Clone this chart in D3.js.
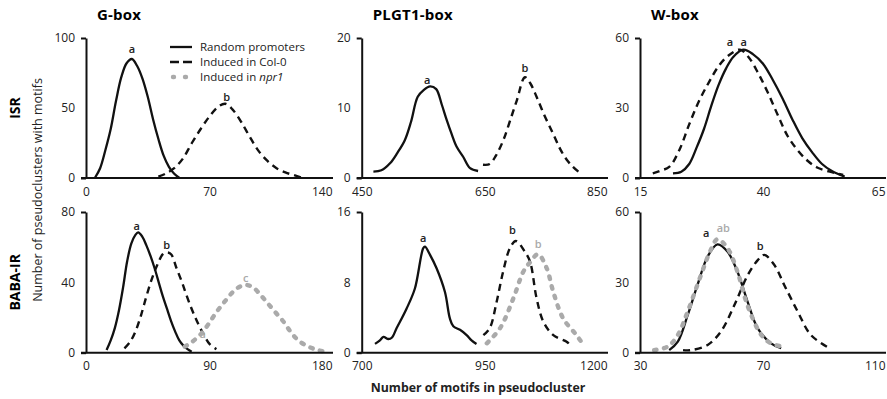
<!DOCTYPE html>
<html>
<head>
<meta charset="utf-8">
<script src="https://cdn.jsdelivr.net/npm/d3@7"></script>
<style>
  body { margin: 0; background: #fff; }
  svg { display: block; font-family: "Open Sans", sans-serif; }
</style>
</head>
<body>
<svg id="chart" width="887" height="399"></svg>
<script>
// values, [motifs, pseudoclusters]
const gIsrRandom = [[5,0],[8,7],[11,20],[14,35],[17,55],[20,72],[23,82],[26,85],[29,80],[32,71],[35,58],[38,42],[41,28],[44,16],[47,8],[50,3],[53,0]];
const gIsrCol = [[41,1],[45,3],[50,7],[55,14],[60,25],[65,35],[70,44],[75,51],[79,53],[83,49],[88,40],[93,29],[98,19],[103,12],[108,7],[113,4],[118,2],[123,0]];
const plgtIsrRandom = [[469,0.9],[482,1.1],[496,2.1],[508,3.6],[520,5.4],[530,8],[541,11.6],[551,12.6],[561,13.1],[571,12.7],[580,10.5],[588,8.3],[596,6.3],[604,4.5],[615,3],[626,1.4],[639,1.0]];
const plgtIsrCol = [[647,1.9],[658,2.0],[668,3.2],[680,5.4],[691,8.2],[702,11.1],[715,14.4],[724,13.5],[734,11.6],[747,8.9],[761,6.3],[772,4.2],[783,2.6],[793,1.6],[802,0.9]];
const wIsrRandom = [[21.7,2],[23.4,2.7],[25,6],[26.5,13],[28,21],[29.5,31],[31,40],[32.5,47],[34,52],[36,55],[38,53],[40,49],[42,42],[44,34],[46,25],[48,17],[50,11],[52,6],[54,3],[56.6,0.6]];
const wIsrCol = [[17.6,2],[19,3],[21,4.9],[23,12],[25,23],[27,33],[29,41],[31,48],[33,52.5],[35.3,55],[37,52],[39,45],[41,36.5],[43,27],[45,18],[47,12],[49,7.5],[51,4.5],[53.6,2.7],[56.3,1.3]];

const gBabaRandom = [[15,1.5],[18,7],[21,14],[24,24],[27,37],[30,52],[33,62],[36,67],[38,68.4],[41,66],[44,61],[47,55],[50,48],[53,40],[56,32],[59,25],[62,18],[65,12],[68,7],[71,4],[74,2],[77,0.5]];
const gBabaCol = [[28,2.5],[32,6],[36,12],[40,21],[44,32],[48,42],[52,50],[56,56],[59,57],[62,56],[66,48],[70,40],[74,31],[78,23],[82,16],[86,10],[90,5],[95,2]];
const gBabaNpr = [[72,3.4],[77,6],[83,10],[89,16],[95,23],[101,29],[107,34.5],[112,37.5],[117,38.5],[122,37],[127,33],[132,28.5],[138,23],[144,17.6],[149,12],[154,7.5],[159,4.7],[164,2.8],[169,1.5],[174,0.6]];
const plgtBabaRandom = [[727,1.0],[737,1.4],[744,1.8],[754,1.56],[761,1.7],[771,2.8],[791,5.0],[808,7.3],[825,11.9],[828.5,12.05],[839,11.1],[852,9.6],[869,6.9],[879,3.9],[886,3.0],[899.5,2.6],[913,2.0],[923,1.4],[933,1.0]];
const plgtBabaCol = [[947,2.0],[960,2.8],[974,5.8],[987,9.2],[1001,11.9],[1013,12.7],[1031,11.5],[1042,10.3],[1055,6.2],[1069,3.5],[1089,2.0],[1116,1.25],[1121,1.0]];
const plgtBabaNpr = [[954,1.07],[981,2.8],[1008,6.2],[1028,9.2],[1042,10.3],[1058,11.2],[1075.6,9.6],[1089,6.9],[1109,3.9],[1136,2.0],[1150,0.9]];
const wBabaRandom = [[39.5,1.1],[42.3,4.7],[45.5,16],[48.7,28.9],[52,41],[55.2,46.2],[58.5,43],[61.7,34.5],[65,21.7],[68.3,10.4],[72.6,4],[75.9,1.9]];
const wBabaCol = [[44,1.1],[46.6,1.1],[52,3.3],[56.3,9],[60.7,20.3],[65,33],[68.3,39.5],[70.4,41.7],[73.7,37.4],[76.9,28.9],[81.3,17.5],[85.6,7.5],[91.6,1.9]];
const wBabaNpr = [[34.6,1.1],[39,2.6],[42.3,7.5],[45.5,17.5],[49.8,33],[53,43.8],[55.2,48.4],[58.5,44.5],[61.7,34.5],[65,20],[69.5,7.5],[72.6,4],[76.4,2.6]];

const motifTitles = ["G-box", "PLGT1-box", "W-box"];
const treatments = ["ISR", "BABA-IR"];
const xDomains = [[[0,140],[450,850],[15,65]], [[0,180],[700,1200],[30,110]]];
const yMax = [[100,20,60], [80,16,60]];
const seriesNames = ["Random promoters", "Induced in Col-0", "Induced in npr1"];

// significance letters: [row, col, text, x, y, series]
const letters = [
  [0,0,"a",26,91.9,0],[0,0,"b",79.8,57.4,1],
  [0,1,"a",556.5,14,0],[0,1,"b",715,15.7,1],
  [0,2,"a",33.3,58.4,1],[0,2,"a",36.1,58.4,0],
  [1,0,"a",37,72.2,0],[1,0,"b",58.8,61.2,1],[1,0,"c",116.4,42.3,2],[1,0,"a",85,10.5,2],
  [1,1,"a",825,13,0],[1,1,"b",1006,13.95,1],[1,1,"b",1058.5,12.3,2],
  [1,2,"a",51.5,50.9,0],[1,2,"ab",57.1,53,2],[1,2,"b",69.1,45.6,1]
];

const curves = [
  [[gIsrRandom, gIsrCol], [plgtIsrRandom, plgtIsrCol], [wIsrRandom, wIsrCol]],
  [[gBabaRandom, gBabaCol, gBabaNpr], [plgtBabaRandom, plgtBabaCol, plgtBabaNpr], [wBabaRandom, wBabaCol, wBabaNpr]]
];

const colX = [[86, 333], [361.7, 608], [640, 886]];
const rowY = [[178, 38], [352.7, 212]];
const grey = "#aaaaaa";

const svg = d3.select("#chart");

const styleOf = [
  s => s.attr("stroke", "#111").attr("stroke-width", 2.3),
  s => s.attr("stroke", "#111").attr("stroke-width", 2.4).attr("stroke-dasharray", "7 5"),
  s => s.attr("stroke", grey).attr("stroke-width", 4.4).attr("stroke-dasharray", "2.5 7.5").attr("stroke-linecap", "round")
];

treatments.forEach((t, r) => {
  motifTitles.forEach((m, c) => {
    const x = d3.scaleLinear().domain(xDomains[r][c]).range(colX[c]);
    const y = d3.scaleLinear().domain([0, yMax[r][c]]).range(rowY[r]);
    const g = svg.append("g");

    const line = d3.line().x(d => x(d[0])).y(d => y(d[1])).curve(d3.curveCatmullRom.alpha(0.5));
    curves[r][c].forEach((data, i) => {
      g.append("path").datum(data).attr("d", line).attr("fill", "none").call(styleOf[i]);
    });

    // y axis
    const yTicks = [0, yMax[r][c] / 2, yMax[r][c]];
    const ya = g.append("g").attr("transform", `translate(${colX[c][0]},0)`)
      .call(d3.axisLeft(y).tickValues(yTicks).tickSize(5).tickSizeOuter(0).tickFormat(d3.format("d")));
    ya.select(".domain").attr("stroke-width", 2).attr("stroke", "#111");
    ya.selectAll(".tick line").attr("stroke-width", 2).attr("stroke", "#111")
      .attr("opacity", d => d === yTicks[1] ? 0 : 1);
    ya.selectAll(".tick text").attr("x", -11).attr("font-size", 12).attr("font-family", "Open Sans").attr("fill", "#222");

    // x axis
    const xd = x.domain();
    const xTicks = [xd[0], (xd[0] + xd[1]) / 2, xd[1]];
    const xa = g.append("g").attr("transform", `translate(0,${rowY[r][0]})`)
      .call(d3.axisBottom(x).tickValues(xTicks).tickSize(0).tickSizeOuter(0).tickFormat(d3.format("d")));
    xa.select(".domain").attr("stroke-width", 2).attr("stroke", "#111")
      .attr("d", `M${colX[c][0] - 5},0H${colX[c][1]}`);
    xa.selectAll(".tick text").attr("y", 9).attr("font-size", 12).attr("font-family", "Open Sans").attr("fill", "#222")
      .attr("text-anchor", (d, i) => i === 2 ? "end" : "middle")
      .attr("dx", (d, i) => i === 2 ? -1 : 0);

    if (r === 0) {
      svg.append("text").attr("x", colX[c][0] + 11).attr("y", 20)
        .attr("font-size", 15).attr("font-weight", 700).attr("letter-spacing", 0.2).text(m);
    }
  });

  svg.append("text")
    .attr("transform", `translate(20,${(rowY[r][0] + rowY[r][1]) / 2}) rotate(-90)`)
    .attr("text-anchor", "middle").attr("font-size", 14).attr("font-weight", 700).text(t);
});

// letters
letters.forEach(([r, c, txt, lx, ly, s]) => {
  const x = d3.scaleLinear().domain(xDomains[r][c]).range(colX[c]);
  const y = d3.scaleLinear().domain([0, yMax[r][c]]).range(rowY[r]);
  svg.append("text").attr("x", x(lx)).attr("y", y(ly)).attr("dy", "0.35em")
    .attr("text-anchor", "middle").attr("font-size", 11).attr("font-weight", 600)
    .attr("fill", s === 2 ? grey : "#222").text(txt);
});

// legend
const legend = svg.append("g").attr("transform", "translate(170,47)");
seriesNames.forEach((n, i) => {
  const row = legend.append("g").attr("transform", `translate(0,${i * 15})`);
  row.append("line").attr("x1", i === 2 ? 3 : 0).attr("x2", 22).attr("y1", 0).attr("y2", 0)
    .call(styleOf[i]).attr("stroke-dasharray", i === 1 ? "9 4" : i === 2 ? "1 11" : null);
  const tx = row.append("text").attr("x", 30).attr("dy", "0.35em").attr("font-size", 11.5).attr("fill", "#222");
  if (i === 2) {
    tx.append("tspan").text("Induced in ");
    tx.append("tspan").attr("font-style", "italic").text("npr1");
  } else {
    tx.text(n);
  }
});

// axis titles
svg.append("text")
  .attr("transform", "translate(42,190) rotate(-90)")
  .attr("text-anchor", "middle").attr("font-size", 12.5).attr("fill", "#222")
  .text("Number of pseudoclusters with motifs");

svg.append("text").attr("x", 478).attr("y", 388).attr("dy", "0.35em")
  .attr("text-anchor", "middle").attr("font-size", 12.3).attr("font-weight", 700).attr("fill", "#222")
  .text("Number of motifs in pseudocluster");
</script>
</body>
</html>
